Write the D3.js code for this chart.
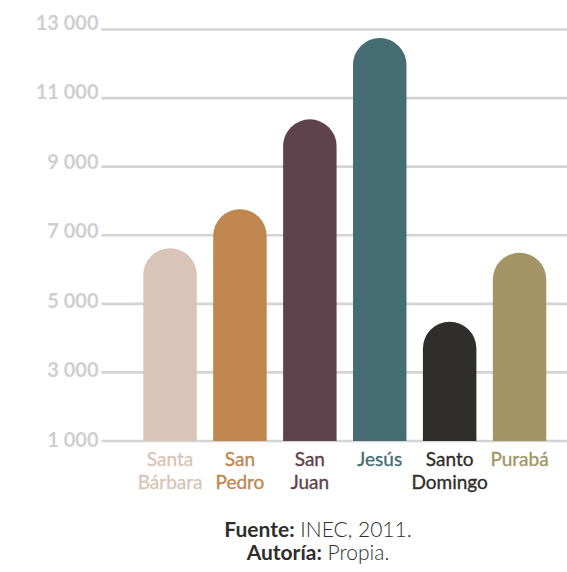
<!DOCTYPE html>
<html>
<head>
<meta charset="utf-8">
<script src="https://cdn.jsdelivr.net/npm/d3@7"></script>
<style>
  html, body { margin: 0; padding: 0; background: #ffffff; }
  svg { display: block; }
</style>
</head>
<body>
<svg id="chart" width="567" height="572"></svg>
<script>
const categories = ["Santa Bárbara", "San Pedro", "San Juan", "Jesús", "Santo Domingo", "Purabá"];
const labelLines = [["Santa", "Bárbara"], ["San", "Pedro"], ["San", "Juan"], ["Jesús"], ["Santo", "Domingo"], ["Purabá"]];
const values = [6620, 7760, 10380, 12750, 4480, 6490];
const colors = ["#d9c5b8", "#bf864f", "#5e424c", "#466d73", "#2f2e2c", "#a39566"];
const tickValues = [1000, 3000, 5000, 7000, 9000, 11000, 13000];
const tickLabels = ["1 000", "3 000", "5 000", "7 000", "9 000", "11 000", "13 000"];

const svg = d3.select("#chart");
const y = d3.scaleLinear().domain([1000, 13000]).range([441, 29.5]);
const yLab = y.copy().range([446.5, 30]);
const x = d3.scaleBand().domain(categories).range([143.3, 546.3]).paddingInner(0.235).paddingOuter(0);

// gridlines
svg.append("g").selectAll("line").data(tickValues).join("line")
  .attr("x1", 101.5).attr("x2", 567)
  .attr("y1", d => y(d)).attr("y2", d => y(d))
  .attr("stroke", "#d4d4d4").attr("stroke-width", 2.6);

// tick labels
svg.append("g").selectAll("text").data(tickValues).join("text")
  .attr("x", 98.5).attr("y", d => yLab(d))
  .attr("text-anchor", "end")
  .attr("font-family", "Lato, sans-serif").attr("font-weight", 700)
  .attr("font-size", 20).attr("fill", "#cfcfcf")
  .text((d, i) => tickLabels[i]);

// bars with rounded tops
const w = x.bandwidth();
const r = w / 2;
svg.append("g").selectAll("path").data(categories).join("path")
  .attr("fill", (d, i) => colors[i])
  .attr("d", (d, i) => {
    const x0 = x(d), top = y(values[i]), base = y(1000);
    return `M${x0},${base} L${x0},${top + r} A${r},${r} 0 0 1 ${x0 + w},${top + r} L${x0 + w},${base} Z`;
  });

// category labels
const lab = svg.append("g").selectAll("text").data(categories).join("text")
  .attr("text-anchor", "middle")
  .attr("font-family", "Lato, sans-serif").attr("font-weight", 400)
  .attr("font-size", 19)
  .attr("fill", (d, i) => colors[i])
  .attr("stroke", (d, i) => colors[i]).attr("stroke-width", 0.35);
lab.each(function(d, i) {
  const t = d3.select(this);
  labelLines[i].forEach((ln, j) => {
    t.append("tspan").attr("x", x(d) + w / 2).attr("y", 466 + j * 23).text(ln);
  });
});

// footer
const foot = [["Fuente:", " INEC, 2011."], ["Autoría:", " Propia."]];
foot.forEach((f, i) => {
  const t = svg.append("text")
    .attr("x", 318).attr("y", 537 + i * 23)
    .attr("text-anchor", "middle")
    .attr("font-family", "Lato, sans-serif").attr("font-size", 21).attr("fill", "#2f2e2c");
  t.append("tspan").attr("font-weight", 700).text(f[0]);
  t.append("tspan").attr("font-weight", 300).text(f[1]);
});
</script>
</body>
</html>
